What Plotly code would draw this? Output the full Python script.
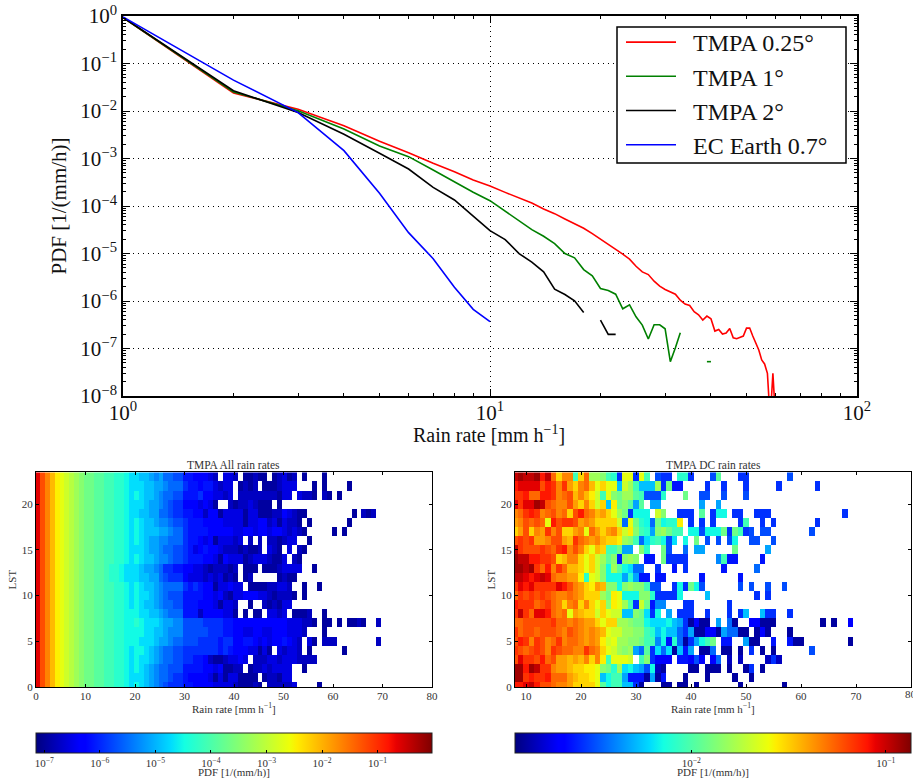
import plotly.graph_objects as go

W, H = 913, 780

# ---- line chart: log10(PDF) at integer rain rates
rain_rate = list(range(1, 61))
log_red = [-0.03, -1.62, -1.965, -2.309, -2.639, -2.877, -3.102, -3.277, -3.453, -3.579,
           -3.713, -3.825, -3.937, -4.063, -4.161, -4.273, -4.371, -4.469, -4.581, -4.693,
           -4.812, -4.917, -5.015, -5.12, -5.268, -5.387, -5.443, -5.583, -5.688, -5.758,
           -5.807, -5.856, -5.982, -6.066, -6.094, -6.227, -6.29, -6.402, -6.318, -6.374,
           -6.633, -6.598, -6.696, -6.675, -6.577, -6.773, -6.794, -6.766, -6.738, -6.57,
           -6.57, -6.738, -6.878, -7.032, -7.242, -7.326, -7.522, -8.5, -7.522, -8.5]
log_green = [-0.03, -1.60, -1.993, -2.379, -2.737, -2.961, -3.242, -3.488, -3.712, -3.888,
             -4.105, -4.308, -4.497, -4.637, -4.791, -5.001, -5.092, -5.338, -5.471, -5.737,
             -5.779, -5.856, -6.164, -6.08, -6.332, -6.507, -6.801, -6.5, -6.5, -6.584,
             -7.277, -6.983, -6.668, None, None, None, None, None, -7.277, -7.277]
log_black = [-0.03, -1.573, -2.03, -2.491, -2.891, -3.221, -3.607, -3.874, -4.211, -4.519,
             -4.707, -5.001, -5.183, -5.387, -5.751, -5.863, -5.996, -6.241, None, -6.402,
             -6.703, -6.703]
log_blue = [-0.02, -1.35, -2.035, -2.835, -3.733, -4.561, -5.109, -5.712, -6.175, -6.435]
series_names = ["TMPA 0.25°", "TMPA 1°", "TMPA 2°", "EC Earth 0.7°"]
series_colors = ["#ff0000", "#008000", "#000000", "#0000ff"]

# ---- heat maps: one character per cell, top row (LST 23) first.
# '.' = empty, otherwise position in LEVELS = position along the colour bar.
LEVELS = "0123456789abcdefghijklmnopqrstuvwxyz"

# groups: 0-9, 10-19, 20-29, ...
ALL_ROWS = [
 "wtrpnmlkji hhggffeedc cbba9a8877 5544432.33 2.11211.12 312.1...1.",
 "wtrpnmlkji hhggffeedc ccbbaa9888 6554553233 .1212.1112 333...1.1. ...1......",
 "wtrpnmlkji hhggffeedc dcbba98877 5556443323 .222222221 33.3221.21 .1........",
 "wtrpnmlkji hhggffeedc ccbaa98766 4443431..2 12232111.1",
 "wtrpnmlkji hhggffeedc cbbaa88766 5544244133 3313311122 43211..... ....1.212.",
 "wtrpnmlkji hhggffeedc dcbba99877 6555444433 3313344231 3221.1.... ...1......",
 "wtrpnmlkji hhggffeedc dcbbbaa988 6555544444 3344344344 32321..... 1.1.......",
 "wtrpnmlkji hhggffeedc dcbaa99888 6554341333 23.2.2.221 233..1....",
 "wtrpnmlkji hhggffeedc ccbaa98877 6534544322 212112.321 .3.21.....",
 "wtrpnmlkji hhggffeedc dcbba99877 6555443143 3312333211 3.21......",
 "wtrpnmlkji hhggfeedcc cbaa986655 4433212221 2.111.1112 3333..1...",
 "wtrpnmlkji hhggfeedcc cbbaa87666 4333232312 1.12.....1 211.......",
 "wtrpnmlkji hhggffeedc dcbba98888 6565441334 33.1111223 32..1..1..",
 "wtrpnmlkji hhggffeedc dccba98777 5555443421 3344433212 221.1.....",
 "wtrpnmlkji hhggffeedc dcbba98877 5554443133 2..1..2121 33........",
 "wtrpnmlkji hhggffeedd dccbba9888 5552444433 1.1.11.332 3.1112..1.",
 "wtrpnmlkji hhggffeedd edcccbaa99 7777666655 4444444444 4333221.11 .1.1121..2",
 "wtrpnmlkji hhggffeedd ddccbba999 7777766655 4433443344 43332...1.",
 "wtrpnmlkji hhggffeedd dcccbaa988 7776666566 4455434344 5432.31.22 2........2",
 "wtrpnmlkji hhggffeedc ddcba98877 6666666565 44433131.3 2332.1.... ..1.......",
 "wtrpnmlkji hhggffeedc dccba98877 6655421123 343.222332 3332222...",
 "wtrpnmlkji hhggffeedc dcba988777 5555443411 22.1223233 33..1.....",
 "wtrpnmlkji hhggffeedc ccba988766 5444431313 31111.1221 33........",
 "wtrpnmlkji hhggffeedc dcba987666 5544443333 211121.222 223....1..",
]

# groups: 8-9, 10-19, 20-29, ...
DC_ROWS = [
 "wx wwyuwrnqqf nrjjife6ll 6lf.766.ee 6...7g...6 6.......7.",
 "uv vvvsutqtpn qrolnllbkj fbbbj6h55. ...6..6... 6.....6... ...6......",
 "tt urruutqrso qomkflihjj gf777e...h ..77..7... 7.........",
 "vt vvywsrqqsp nqnknbmhig ag.aa..... ..a..a....",
 "qr tutqrsqrns urqopnljh6 ddd.ki..66 6.g.6dd.66 ..666..... ........6.",
 "pq srsrlustts pqpnnnnk8l hed8hdeem. 6.6.6....6 f..6.6.... ...6......",
 "np snqptqsnnp qlrpnpqnkm ifeaijhff. dd7dddh6hf 67.77..... ..7.......",
 "st stppqsspot rqpqonnmji f8cefd7c.d .h.7.7.7d. .77..7....",
 "wt ssstsrtuqs qnlonffhaa .ie..h7..8 .aa.....h. ....a.....",
 "yw wuuttsnoqq nlnkjgi5ij i.55.h6666 .....9f55. ...5......",
 "yy wytruqtroo nlnkidjgdc 88..6..5.6 ......5... ..8.......",
 "ww vuvwvrqqpp melkidddae a55.55.... ..5......5",
 "tv uvttttvusq pnmpoiidij iif77..6d6 hd7......7 .7..7..7..",
 "rt ststsrqqrq pnnnjhmldd diie6666d. ...b...... ..6.6.....",
 "ut ttrstrqnqr nqnlnimljf 6kh599...6 6......6..",
 "tw trvvurqrlp onnknlkkbb ihc6d.a.66 6..6...6.6 b..b66..6.",
 "rr ssssstrrqr qppnlnnjji hhdcccdba6 1411.a.81. .44111.... ....1.1..4",
 "tr ssrsssrqsr qpqpolkkjj iifebdbb86 a11441a881 1.141...1.",
 "su tqtsqrtqrr qpqpmkljji ihff9d5e81 6adfh.55.. a11..5..51 1........1",
 "ts rstsqtsrrq qtrqnlkjij a8g6c8c1b5 a.118.11.1 .6.1.1.... ..7.......",
 "sv ttsursppop oqnqmflllk .fi6444.55 474.48.2.2 ....262...",
 "yx uxwttqppon nmmlihejcd ba7d21.... 11.111.1.. 16.1......",
 "yx tutturrrpo nnmlbdffa5 551a15...1 ...1....1. .1........",
 "uu vwussrqqpn nnnlgdffbb 61...11.11 .1.......1 .......1..",
]

ALL_CBAR_TICKS = [-7, -6, -5, -4, -3, -2, -1]
DC_CBAR_TICKS = [-2, -1]
ALL_RANGE = (-7.15, -0.02)
DC_RANGE = (-2.907, -0.87)
ALL_COLS = list(range(0, 80))
DC_COLS = list(range(8, 80))
LST = list(range(0, 24))
JET = [[0, "rgb(0,0,127)"], [.11, "rgb(0,0,255)"], [.125, "rgb(0,0,255)"], [.34, "rgb(0,219,255)"],
       [.375, "rgb(20,255,226)"], [.64, "rgb(238,255,8)"], [.66, "rgb(255,236,0)"],
       [.89, "rgb(255,19,0)"], [.91, "rgb(232,0,0)"], [1, "rgb(127,0,0)"]]


def decode(rows, n, rng, warm_bump=0):
    out = []
    for r in rows:
        chars = r.replace(" ", "").ljust(n, ".")[:n]
        row = []
        for ch in chars:
            if ch == ".":
                row.append(None)
                continue
            i = LEVELS.index(ch)
            if 20 <= i < 34:
                i += warm_bump
            row.append(rng[0] + i / 35 * (rng[1] - rng[0]))
        out.append(row)
    return out[::-1]


def pow10(vals):
    return [None if v is None else 10 ** v for v in vals]


def sup(e):
    return "10<sup>" + str(e).replace("-", "−") + "</sup>"


SERIF = "Liberation Serif"
fig = go.Figure()

for name, col, vals in zip(series_names, series_colors, [log_red, log_green, log_black, log_blue]):
    fig.add_trace(go.Scatter(x=rain_rate[:len(vals)], y=pow10(vals), mode="lines", name="\u00a0\u00a0" + name,
                             line=dict(color=col, width=1.6), connectgaps=False, xaxis="x", yaxis="y"))


def cb(x0, ticks):
    return dict(orientation="h", x=x0 / W, xanchor="left", xref="paper", y=1 - 733 / H, yref="paper",
                yanchor="top", len=396, lenmode="pixels", thickness=20, thicknessmode="pixels",
                xpad=0, ypad=0, outlinewidth=1, outlinecolor="#222", tickmode="array",
                tickvals=ticks, ticktext=[sup(t) for t in ticks], ticks="inside", ticklen=3,
                tickcolor="#000", tickfont=dict(family=SERIF, size=11, color="#333"))


fig.add_trace(go.Heatmap(z=decode(ALL_ROWS, 80, ALL_RANGE), x=[c + 0.25 for c in ALL_COLS], y=LST,
                         zmin=ALL_RANGE[0], zmax=ALL_RANGE[1], colorscale=JET, xaxis="x2", yaxis="y2",
                         hoverongaps=False, showlegend=False, colorbar=cb(36, ALL_CBAR_TICKS)))
fig.add_trace(go.Heatmap(z=decode(DC_ROWS, 72, DC_RANGE, warm_bump=1), x=DC_COLS, y=LST,
                         zmin=DC_RANGE[0], zmax=DC_RANGE[1], colorscale=JET, xaxis="x3", yaxis="y3",
                         hoverongaps=False, showlegend=False, colorbar=cb(515, DC_CBAR_TICKS)))


def dom_x(a, b):
    return [a / W, b / W]


def dom_y(top, bot):
    return [1 - bot / H, 1 - top / H]


def label(text, px, py, font):
    return dict(text=text, x=px / W, y=1 - py / H, xref="paper", yref="paper", showarrow=False,
                font=font, xanchor="center", yanchor="middle")


minor_x = [m * 10 ** d for d in range(0, 2) for m in range(2, 10)]
minor_y = [m * 10.0 ** d for d in range(-8, 0) for m in range(2, 10)]
big = dict(family=SERIF, size=21, color="#111")
small = dict(family=SERIF, size=11, color="#333")
title_font = dict(family=SERIF, size=11.5, color="#333")
rain_label = "Rain rate [mm h<sup>−1</sup>]"
pdf_label = "PDF [1/(mm/h)]"
axis_common = dict(showline=True, linecolor="#000", mirror="allticks", ticks="inside", tickcolor="#000", zeroline=False)

fig.update_layout(
    width=W, height=H, margin=dict(l=0, r=0, t=0, b=0, autoexpand=False), autosize=False,
    paper_bgcolor="white", plot_bgcolor="white", font=dict(family=SERIF),
    xaxis=dict(domain=dom_x(123, 857), type="log", range=[0, 2], tickmode="array", tickvals=[1, 10, 100],
               ticktext=[sup(0), sup(1), sup(2)], ticklen=7, linewidth=1.6, tickfont=big, showgrid=True,
               gridcolor="#000", griddash="1px,4px", gridwidth=1, ticklabelstandoff=-3,
               minor=dict(tickvals=minor_x, ticks="inside", ticklen=3, tickcolor="#000", showgrid=False),
               anchor="y", **axis_common),
    yaxis=dict(domain=dom_y(16, 396), type="log", range=[-8, 0], tickmode="array",
               tickvals=[10.0 ** e for e in range(-8, 1)], ticktext=[sup(e) for e in range(-8, 1)],
               ticklen=7, linewidth=1.6, tickfont=big, showgrid=True, gridcolor="#000",
               griddash="1px,4px", gridwidth=1,
               minor=dict(tickvals=minor_y, ticks="inside", ticklen=3, tickcolor="#000", showgrid=False),
               title=dict(text=pdf_label, font=dict(family=SERIF, size=21, color="#111"), standoff=8),
               anchor="x", **axis_common),
    xaxis2=dict(domain=dom_x(36, 432), range=[0, 80], tickvals=list(range(0, 81, 10)), ticklen=3, linewidth=1,
                tickfont=small, showgrid=False, anchor="y2", ticklabelstandoff=-1, **axis_common),
    yaxis2=dict(domain=dom_y(472.3, 687), range=[0, 23.5], tickvals=[0, 5, 10, 15, 20], ticklen=3, linewidth=1,
                tickfont=small, showgrid=False, anchor="x2",
                title=dict(text="LST", font=small, standoff=2), **axis_common),
    xaxis3=dict(domain=dom_x(515, 911), range=[8, 80], tickvals=list(range(10, 81, 10)), ticklen=3, linewidth=1,
                tickfont=small, showgrid=False, anchor="y3", ticklabelstandoff=-1, **axis_common),
    yaxis3=dict(domain=dom_y(472.3, 687), range=[0, 23.5], tickvals=[0, 5, 10, 15, 20], ticklen=3, linewidth=1,
                tickfont=small, showgrid=False, anchor="x3",
                title=dict(text="LST", font=small, standoff=2), **axis_common),
    legend=dict(x=607 / W, xanchor="left", y=1 - 20 / H, yanchor="top", bgcolor="rgba(0,0,0,0)",
                borderwidth=0, font=dict(family=SERIF, size=24, color="#111"), itemwidth=50, indentation=14,
                traceorder="normal", itemclick=False),
    shapes=[dict(type="rect", xref="paper", yref="paper", x0=617 / W, x1=846 / W, y0=1 - 163 / H, y1=1 - 27 / H,
                 fillcolor="white", line=dict(color="#000", width=1.5), layer="above")],
    annotations=[
        label(rain_label, 489, 434, dict(family=SERIF, size=20, color="#111")),
        label("TMPA All rain rates", 234, 465, title_font),
        label("TMPA DC rain rates", 713, 465, title_font),
        label("80", 911, 694, small),
        label(rain_label, 234, 708, small),
        label(rain_label, 713, 708, small),
        label(pdf_label, 234, 772, small),
        label(pdf_label, 713, 772, small),
    ],
)

fig.write_html("out.html", config={"displayModeBar": False},
               post_script="document.body.style.margin='0';document.body.style.overflow='hidden';")
